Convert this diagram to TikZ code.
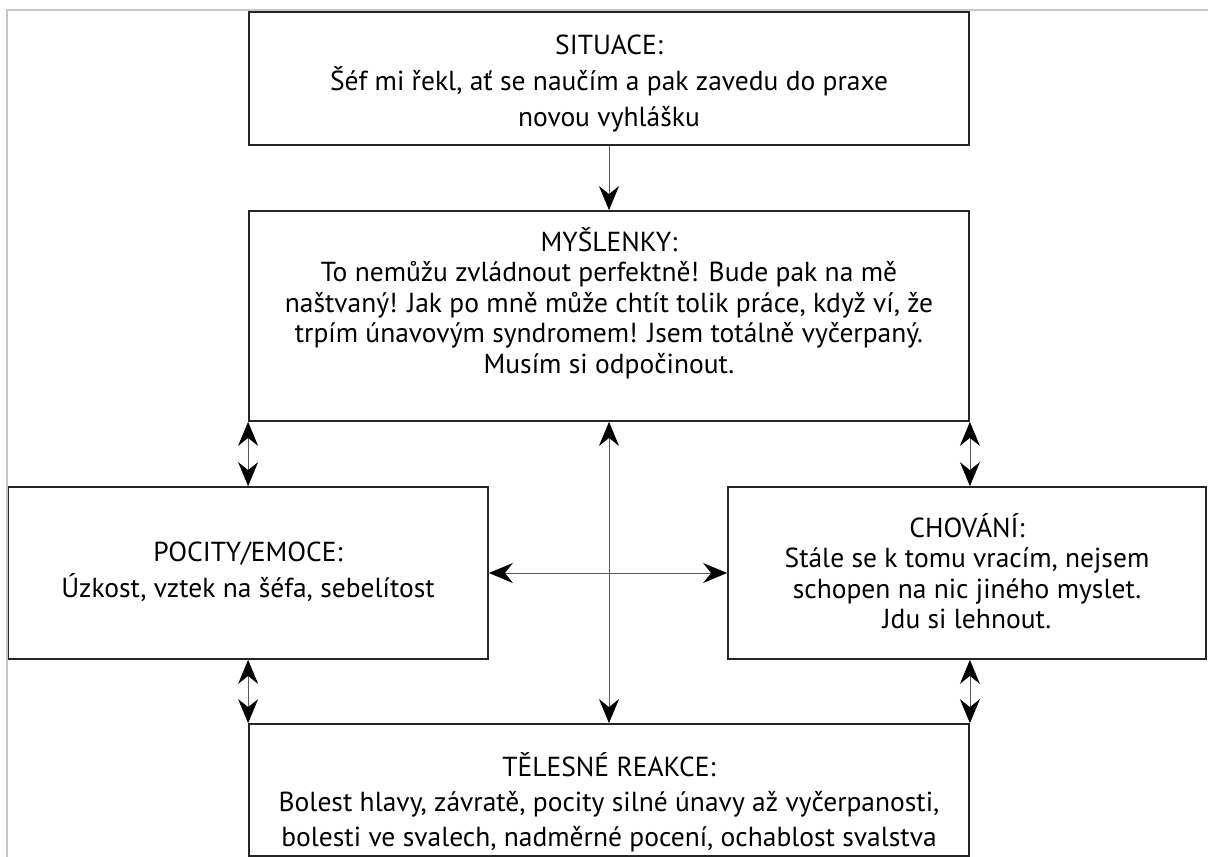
\documentclass[tikz,border=0pt]{standalone}
\usepackage{fontspec}
\setmainfont{PT Sans}
\usetikzlibrary{arrows.meta}
\tikzset{
  box/.style={draw=black!85, line width=1.8pt, rectangle, inner sep=0pt},
  txt/.style={align=center, inner sep=0pt, font=\fontsize{27.5}{36}\selectfont, text=black},
  txtm/.style={align=center, inner sep=0pt, font=\fontsize{27.5}{30.5}\selectfont, text=black},
  txtt/.style={align=center, inner sep=0pt, font=\fontsize{27.5}{35}\selectfont, text=black},
  link/.style={draw=black!65, line width=0.8pt},
  myarr/.tip={Stealth[length=24pt,width=20pt,inset=8pt,color=black,fill=black]},
}
\begin{document}
\begin{tikzpicture}[x=1pt,y=-1pt]
\useasboundingbox (0,0) rectangle (1208,857);
\fill[white] (0,0) rectangle (1208,857);
\draw[black!22, line width=1.5pt] (7,857) -- (7,10) -- (1208,10);

\node[box, minimum width=720pt, minimum height=133pt] (sit) at (609,78.5) {};
\node[box, minimum width=720pt, minimum height=210pt] (mys) at (609,316) {};
\node[box, minimum width=479.5pt, minimum height=172pt] (poc) at (248.25,573) {};
\node[box, minimum width=478pt, minimum height=172pt] (cho) at (967,573) {};
\node[box, minimum width=720pt, minimum height=132pt] (tel) at (609,790) {};

\node[txt] (tsit) at (609,84) {SITUACE:\\Šéf mi řekl, ať se naučím a pak zavedu do praxe\\novou vyhlášku};
\node[txtm] (tmys) at (609,303) {MYŠLENKY:\\To nemůžu zvládnout perfektně! Bude pak na mě\\naštvaný! Jak po mně může chtít tolik práce, když ví, že\\trpím únavovým syndromem! Jsem totálně vyčerpaný.\\Musím si odpočinout.};
\node[txt] (tpoc) at (248,572) {POCITY/EMOCE:\\Úzkost, vztek na šéfa, sebelítost};
\node[txtm] (tcho) at (967,571) {CHOVÁNÍ:\\Stále se k tomu vracím, nejsem\\schopen na nic jiného myslet.\\Jdu si lehnout.};
\node[txtt] (ttel) at (609,802) {TĚLESNÉ REAKCE:\\Bolest hlavy, závratě, pocity silné únavy až vyčerpanosti,\\bolesti ve svalech, nadměrné pocení, ochablost svalstva};

\draw[link, -myarr] (sit.south) -- (mys.north);
\draw[link, myarr-myarr] (mys.south west) -- (mys.south west |- poc.north);
\draw[link, myarr-myarr] (mys.south east) -- (mys.south east |- cho.north);
\draw[link, myarr-myarr] (tel.north west |- poc.south) -- (tel.north west);
\draw[link, myarr-myarr] (tel.north east |- cho.south) -- (tel.north east);
\draw[link, myarr-myarr] (mys.south) -- (tel.north);
\draw[link, myarr-myarr] (poc.east) -- (cho.west);
\end{tikzpicture}
\end{document}
